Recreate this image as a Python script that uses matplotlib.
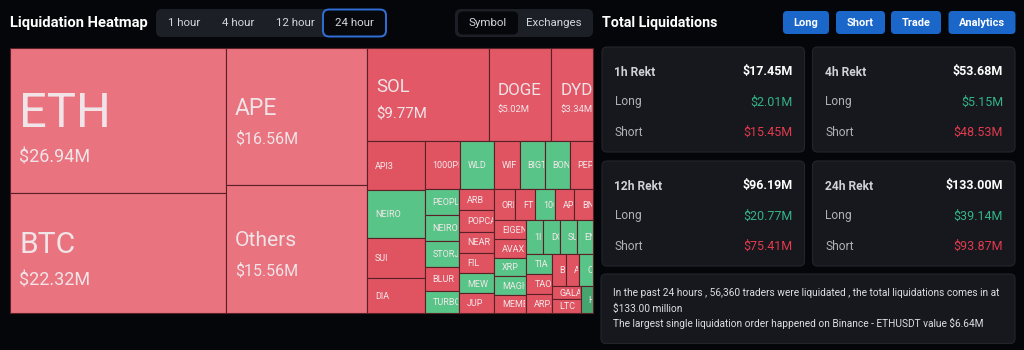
import matplotlib
matplotlib.use("Agg")
import matplotlib.pyplot as plt
from matplotlib.patches import Rectangle, FancyBboxPatch
from matplotlib.transforms import Bbox, TransformedBbox

# --------------------------
# DATA
# --------------------------

# 24h liquidations per symbol, $M (small ones)
coins = ["ETH", "BTC", "APE", "Others", "SOL", "DOGE", "DYDX",
         "API3", "NEIRO", "SUI", "DIA",
         "1000PEPE", "WLD", "WIF", "BIGTIME", "BONK", "PEPE",
         "PEOPLE", "NEIROETH", "STORJ", "BLUR", "TURBO",
         "ARB", "POPCAT", "NEAR", "FIL", "MEW", "JUP",
         "ORDI", "FTM", "1000SATS", "APT", "BNB",
         "EIGEN", "AVAX", "XRP", "MAGIC", "MEME",
         "1INCH", "DOGS", "SUSHI", "ENA",
         "TIA", "TAO", "ARPA",
         "BCH", "ADA", "CRV",
         "GALA", "LTC", "HMSTR"]
amounts = [26.94, 22.32, 16.56, 15.56, 9.77, 5.02, 3.34,
           2.43, 2.40, 1.96, 1.75,
           1.43, 1.38, 1.06, 1.02, 1.02, 0.95,
           0.79, 0.77, 0.76, 0.71, 0.66,
           0.65, 0.64, 0.63, 0.62, 0.60, 0.59,
           0.57, 0.55, 0.54, 0.53, 0.52,
           0.52, 0.52, 0.52, 0.51, 0.51,
           0.48, 0.48, 0.47, 0.47,
           0.44, 0.43, 0.42,
           0.39, 0.38, 0.38,
           0.34, 0.34, 0.29]
# colour tone of each cell
tones = ["r1", "r1", "r1", "r1", "r2", "r2", "r2",
         "r", "g", "r", "r",
         "r", "g", "r", "g", "g", "r",
         "g", "g", "g", "r", "g",
         "r", "r", "r", "r", "g", "r",
         "r", "r", "g", "r", "r",
         "r", "r", "g", "g", "r",
         "g", "g", "g", "g",
         "g", "r", "r",
         "r", "r", "g",
         "r", "r", "g2"]

periods = ["1h", "4h", "12h", "24h"]
rekt_total = [17.45, 53.68, 96.19, 133.00]
rekt_long = [2.01, 5.15, 20.77, 39.14]
rekt_short = [15.45, 48.53, 75.41, 93.87]

tabs = ["1 hour", "4 hour", "12 hour", "24 hour"]
buttons = ["Long", "Short", "Trade", "Analytics"]

traders = 56360
biggest_exchange = "Binance"
biggest_pair = "ETHUSDT"
biggest_value = 6.64

# --------------------------
# STYLE
# --------------------------
BG = "#05060a"
CARD = "#16181d"
CARD_EDGE = "#22252b"
TONE = {"r1": "#e9737e", "r2": "#e25866", "r": "#e05462",
        "g": "#58c487", "g2": "#47a46f"}
# label / value heights in px for the big cells
BIG_LABEL = {"ETH": (49, 18), "BTC": (30, 18), "APE": (23, 16),
             "Others": (21, 16), "SOL": (18.5, 15), "DOGE": (17, 9.5),
             "DYDX": (17, 9.5)}

plt.rcParams['font.family'] = ['Roboto', 'DejaVu Sans']


def px(p):
    # pixel size -> points at dpi 100
    return p * 0.72


def squarify(values, x0, y0, x1, y1, ratio=(1 + 5 ** 0.5) / 2):
    # d3-style squarified treemap
    rects = []
    n = len(values)
    value = sum(values)
    i0 = 0
    while i0 < n:
        dx, dy = x1 - x0, y1 - y0
        i1 = i0 + 1
        s = values[i0]
        mn = mx = s
        alpha = max(dy / dx, dx / dy) / (value * ratio)
        beta = s * s * alpha
        best = max(mx / beta, beta / mn)
        while i1 < n:
            v = values[i1]
            s2 = s + v
            mn2, mx2 = min(mn, v), max(mx, v)
            beta = s2 * s2 * alpha
            r = max(mx2 / beta, beta / mn2)
            if r > best:
                break
            s, mn, mx, best = s2, mn2, mx2, r
            i1 += 1
        row = values[i0:i1]
        if dx < dy:
            h = dy * s / value
            xx = x0
            for v in row:
                w = dx * v / s
                rects.append((xx, y0, w, h))
                xx += w
            y0 += h
        else:
            w = dx * s / value
            yy = y0
            for v in row:
                h = dy * v / s
                rects.append((x0, yy, w, h))
                yy += h
            x0 += w
        value -= s
        i0 = i1
    return rects


def rbox(ax, x, y, w, h, r, fc, ec="none", lw=0):
    p = FancyBboxPatch((x, y), w, h, boxstyle=f"round,pad=0,rounding_size={r}",
                       fc=fc, ec=ec, lw=lw)
    ax.add_patch(p)
    return p


fig = plt.figure(figsize=(10.24, 3.5), dpi=100)
fig.patch.set_facecolor(BG)
ax = fig.add_axes([0, 0, 1, 1])
ax.set_xlim(0, 1024)
ax.set_ylim(350, 0)
ax.axis("off")

# --------------------------
# HEATMAP
# --------------------------
ax.text(10, 23, "Liquidation Heatmap", fontsize=px(14.8), fontweight="bold",
        color="white", va="center", ha="left")

rbox(ax, 156, 9, 231, 28, 6, "#1c1f25")
rbox(ax, 323, 9.5, 63, 27, 6, "#07080c", ec="#2f6fd6", lw=1.4)
for label, cx in zip(tabs, [184, 238, 295, 354]):
    ax.text(cx, 23, label, fontsize=px(11.5), color="#d3d6db",
            ha="center", va="center")

rbox(ax, 455, 9, 138, 28, 6, "#1c1f25")
rbox(ax, 458, 11.5, 60, 23, 5, "#06070a")
ax.text(488, 23, "Symbol", fontsize=px(11.5), color="#d3d6db", ha="center", va="center")
ax.text(554, 23, "Exchanges", fontsize=px(11.5), color="#d3d6db", ha="center", va="center")

cells = squarify(amounts, 10, 48, 593, 313)
for name, amt, tone, (x, y, w, h) in zip(coins, amounts, tones, cells):
    cell = Rectangle((x, y), w, h, fc=TONE[tone], ec="#5a2027", lw=0.8)
    ax.add_patch(cell)
    clip = TransformedBbox(Bbox.from_extents(x + 1, y, x + w - 1, y + h), ax.transData)
    cy = y + h / 2
    if name in BIG_LABEL:
        L, V = BIG_LABEL[name]
        gap = 0.5 * L + 1.25 * V
        lc = cy + 0.25 * L - gap / 2
        vc = cy + 0.25 * L + gap / 2
        texts = [ax.text(x + 9, lc + 0.36 * L, name, fontsize=px(L),
                         color="#f1e4e8", ha="left", va="baseline"),
                 ax.text(x + 9, vc + 0.36 * V, f"${amt:.2f}M", fontsize=px(V),
                         color="#f1e4e8", ha="left", va="baseline")]
    else:
        texts = [ax.text(x + 8, cy + 3.2, name, fontsize=px(9), color="#f3e8ea",
                         ha="left", va="baseline")]
    for t in texts:
        t.set_clip_on(True)
        t.set_clip_box(clip)

# --------------------------
# TOTAL LIQUIDATIONS
# --------------------------
ax.text(602, 23, "Total Liquidations", fontsize=px(14.3), fontweight="bold",
        color="white", va="center", ha="left")
for label, (bx, bw) in zip(buttons, [(783, 46), (836, 49), (891, 50), (948.5, 67)]):
    rbox(ax, bx, 11, bw, 23, 4, "#1a66c9")
    ax.text(bx + bw / 2, 22.5, label, fontsize=px(11), fontweight="bold",
            color="white", ha="center", va="center")

card_pos = [(602, 47), (812.5, 47), (602, 161), (812.5, 161)]
for (cx, cy), per, tot, lo, sh in zip(card_pos, periods, rekt_total, rekt_long, rekt_short):
    rbox(ax, cx, cy, 202.5, 105, 5, CARD, ec=CARD_EDGE, lw=0.8)
    lx, rx = cx + 12.5, cx + 190.5
    ax.text(lx, cy + 25, f"{per} Rekt", fontsize=px(12), fontweight="bold",
            color="#cfd2d7", va="center")
    ax.text(rx, cy + 25, f"${tot:.2f}M", fontsize=px(12.5), fontweight="bold",
            color="white", va="center", ha="right")
    ax.text(lx, cy + 55, "Long", fontsize=px(12), color="#aeb2b8", va="center")
    ax.text(rx, cy + 55, f"${lo:.2f}M", fontsize=px(12.5), color="#34b487",
            va="center", ha="right")
    ax.text(lx, cy + 85, "Short", fontsize=px(12), color="#aeb2b8", va="center")
    ax.text(rx, cy + 85, f"${sh:.2f}M", fontsize=px(12.5), color="#e23a4e",
            va="center", ha="right")

rbox(ax, 601, 274, 414, 69.5, 5, CARD, ec=CARD_EDGE, lw=0.8)
lines = [f"In the past 24 hours , {traders:,} traders were liquidated , the total liquidations comes in at",
         f"${rekt_total[-1]:.2f} million",
         f"The largest single liquidation order happened on {biggest_exchange} - {biggest_pair} value ${biggest_value:.2f}M"]
for ly, line in zip([293.5, 309, 323.5], lines):
    ax.text(613, ly, line, fontsize=px(10.1), color="#dcdee2", va="center", ha="left")

fig.savefig("out.png", dpi=100, facecolor=BG)
